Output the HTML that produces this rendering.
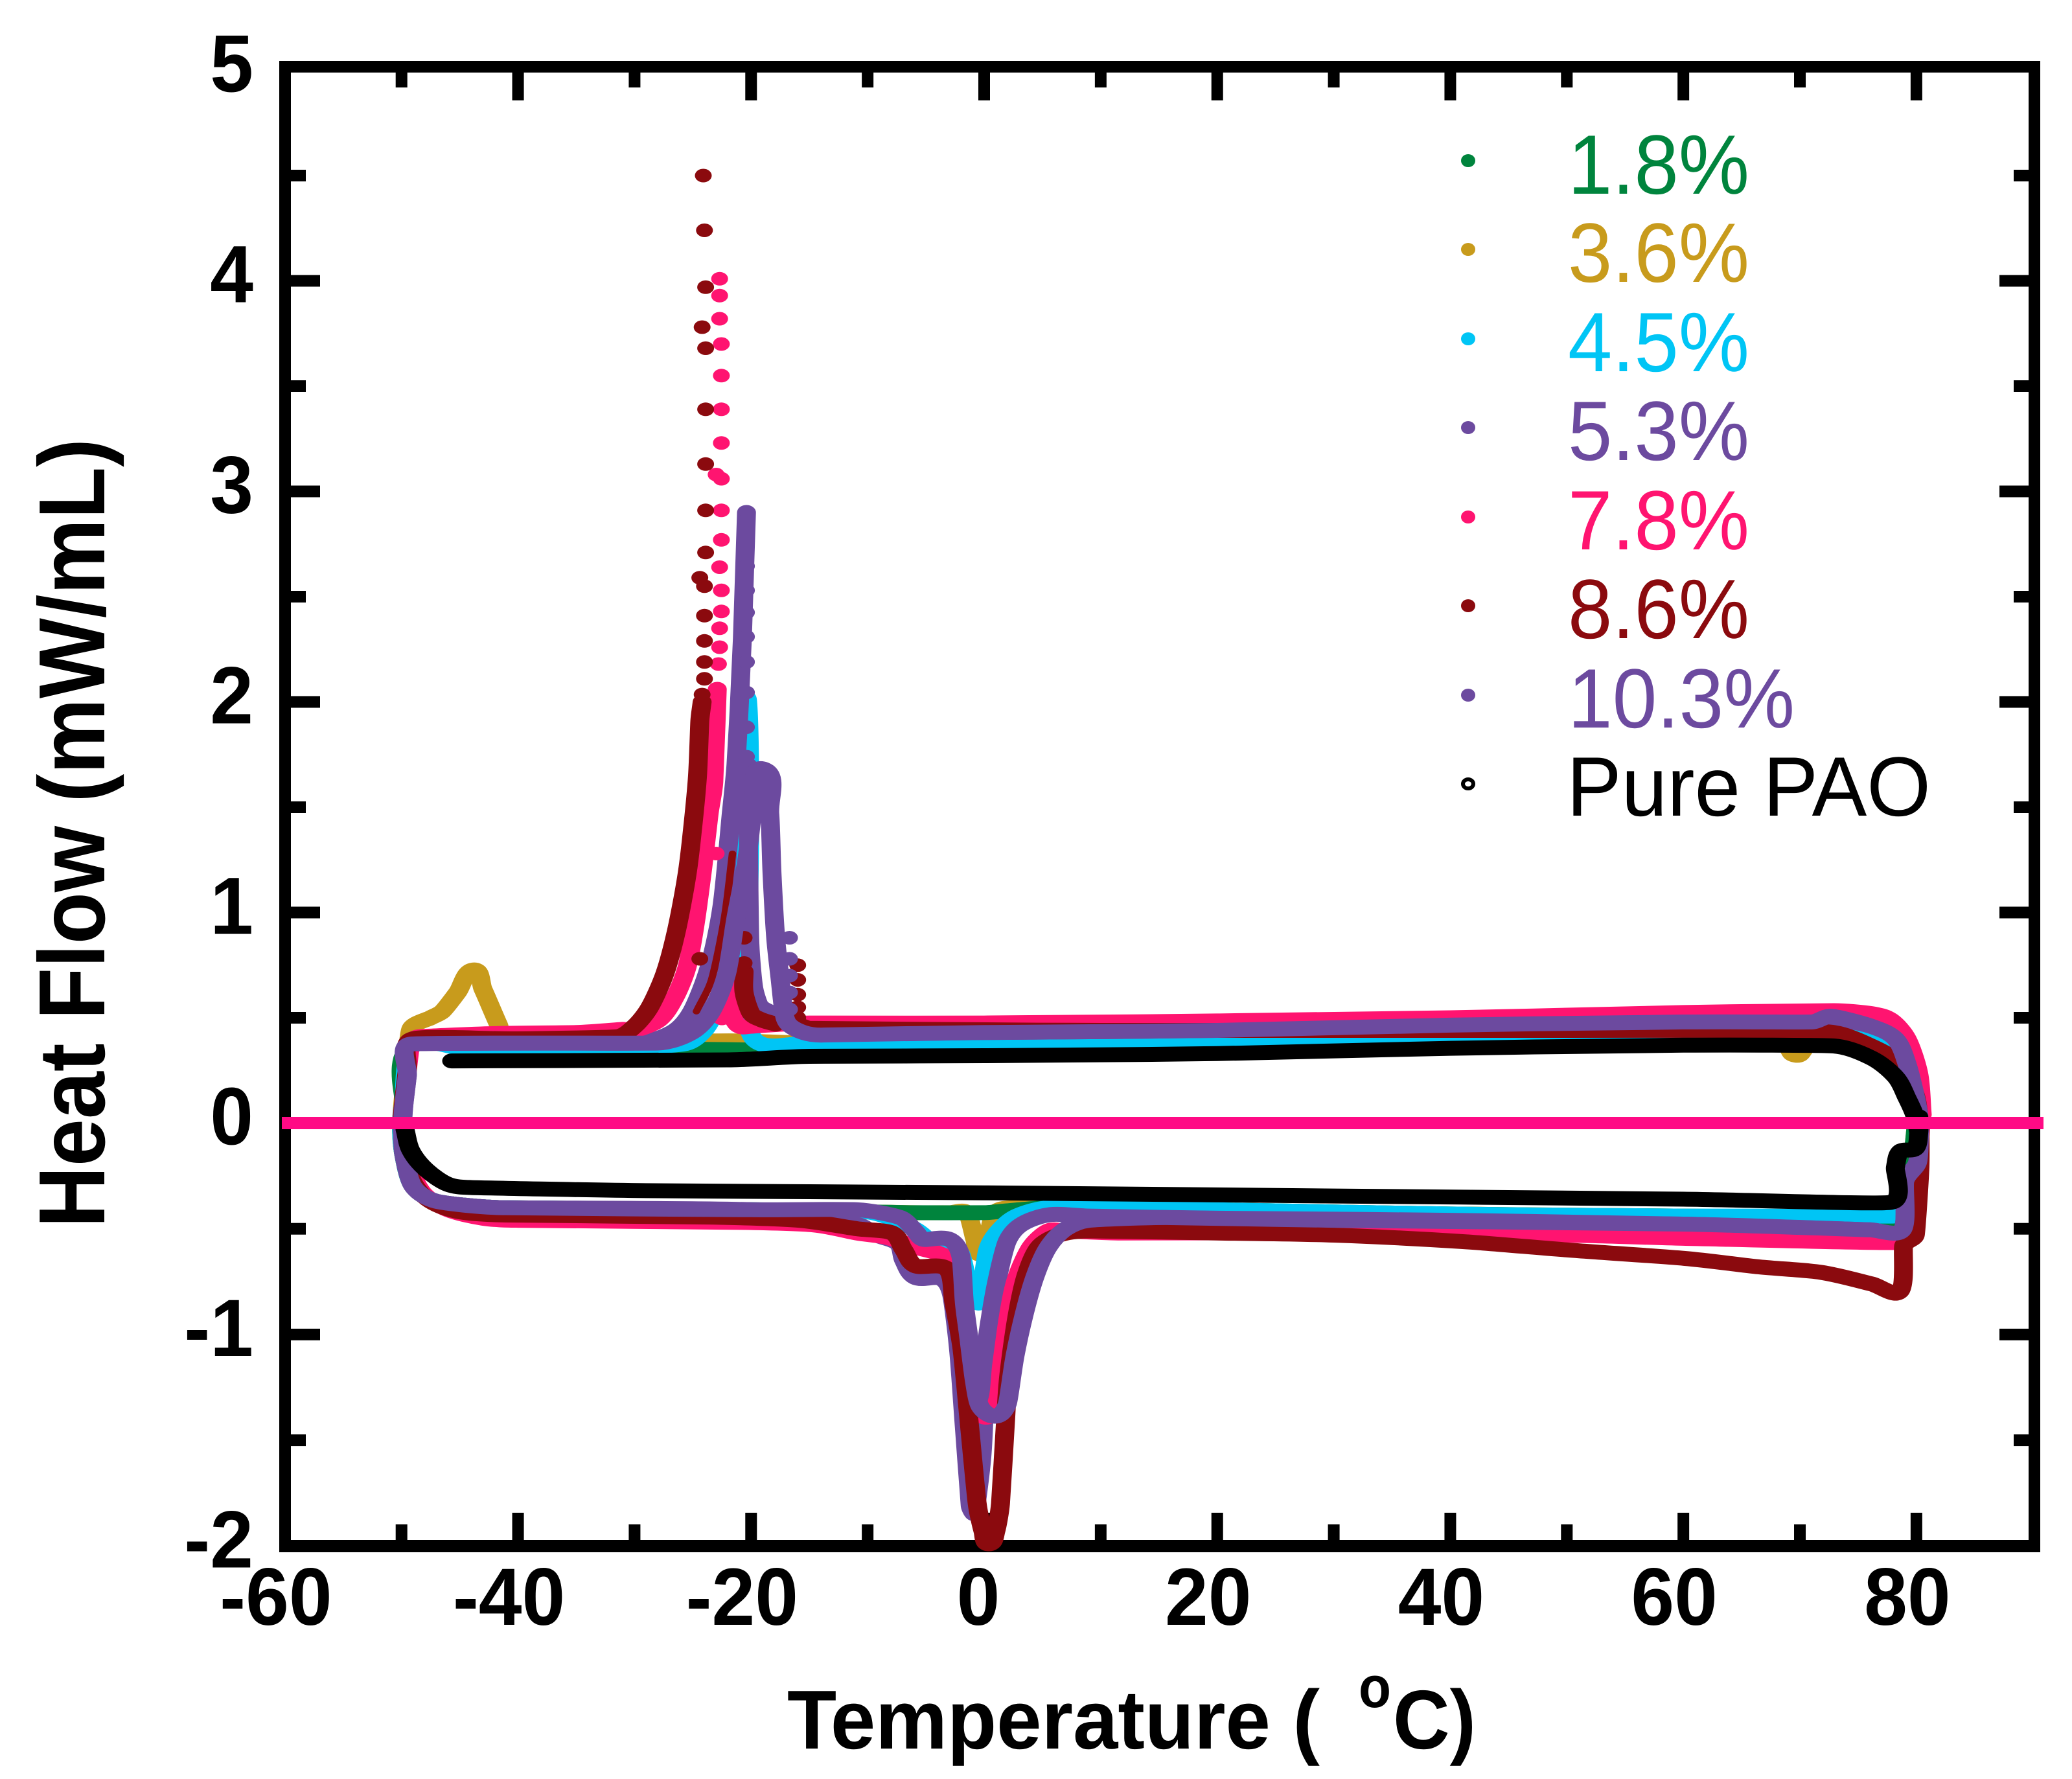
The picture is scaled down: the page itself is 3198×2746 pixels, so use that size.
<!DOCTYPE html>
<html lang="en">
<head>
<meta charset="utf-8">
<title>Heat Flow vs Temperature</title>
<style>
html,body{margin:0;padding:0;background:#fff;}
svg{display:block;}
text{font-family:"Liberation Sans",sans-serif;}
.bold{font-weight:700;fill:#000;}
.leg{font-size:130px;}
</style>
</head>
<body>
<svg id="chart" xmlns="http://www.w3.org/2000/svg" width="3198" height="2746" viewBox="0 0 3198 2746">
  <rect x="0" y="0" width="3198" height="2746" fill="#fff"/>
  <g id="axis-layer">
    <rect x="431" y="94" width="18" height="2302" fill="#000"/>
    <rect x="3131" y="94" width="18" height="2302" fill="#000"/>
    <rect x="431" y="94" width="2718" height="18" fill="#000"/>
    <rect x="431" y="2377" width="2718" height="19" fill="#000"/>
  </g>
  <g id="top-layer"></g>
  <rect x="435" y="1724" width="2719" height="19" fill="#ff0a85"/>
  <text class="bold" transform="translate(161,1895) rotate(-90)" font-size="145" textLength="1218" lengthAdjust="spacingAndGlyphs">Heat Flow (mW/mL)</text>
  <text class="bold" x="1215" y="2699" font-size="129" textLength="822" lengthAdjust="spacingAndGlyphs">Temperature (</text>
  <text class="bold" x="2097" y="2635" font-size="90" textLength="50" lengthAdjust="spacingAndGlyphs">o</text>
  <text class="bold" x="2150" y="2699" font-size="129" textLength="128" lengthAdjust="spacingAndGlyphs">C)</text>
  <g>
    <ellipse cx="2266" cy="248" rx="11" ry="10" fill="#00843d"/>
    <text class="leg" x="2420" y="299" fill="#00843d" textLength="280" lengthAdjust="spacingAndGlyphs">1.8%</text>
    <ellipse cx="2266" cy="385" rx="11" ry="10" fill="#c89b1c"/>
    <text class="leg" x="2420" y="435" fill="#c89b1c" textLength="280" lengthAdjust="spacingAndGlyphs">3.6%</text>
    <ellipse cx="2266" cy="523" rx="11" ry="10" fill="#00c5f5"/>
    <text class="leg" x="2420" y="573" fill="#00c5f5" textLength="280" lengthAdjust="spacingAndGlyphs">4.5%</text>
    <ellipse cx="2266" cy="660" rx="11" ry="10" fill="#6c4a9f"/>
    <text class="leg" x="2420" y="710" fill="#6c4a9f" textLength="280" lengthAdjust="spacingAndGlyphs">5.3%</text>
    <ellipse cx="2266" cy="798" rx="11" ry="10" fill="#ff1470"/>
    <text class="leg" x="2420" y="848" fill="#ff1470" textLength="280" lengthAdjust="spacingAndGlyphs">7.8%</text>
    <ellipse cx="2266" cy="935" rx="11" ry="10" fill="#8b0a0e"/>
    <text class="leg" x="2420" y="985" fill="#8b0a0e" textLength="280" lengthAdjust="spacingAndGlyphs">8.6%</text>
    <ellipse cx="2266" cy="1073" rx="11" ry="10" fill="#6c4a9f"/>
    <text class="leg" x="2420" y="1123" fill="#6c4a9f" textLength="350" lengthAdjust="spacingAndGlyphs">10.3%</text>
    <ellipse cx="2266" cy="1210" rx="8" ry="7" fill="#fff" stroke="#000" stroke-width="6"/>
    <text class="leg" x="2418" y="1259" fill="#000" textLength="562" lengthAdjust="spacingAndGlyphs">Pure PAO</text>
  </g>
</svg>
<script>
const xMajorTicks = [-60,-40,-20,0,20,40,60,80];
const xMinorTicks = [-50,-30,-10,10,30,50,70,90];
const xTickLabels = ["-60","-40","-20","0","20","40","60","80"];
const yMajorTicks = [-2,-1,0,1,2,3,4,5];
const yMinorTicks = [-1.5,-0.5,0.5,1.5,2.5,3.5,4.5];
const yTickLabels = ["-2","-1","0","1","2","3","4","5"];

const temp18 = [80,79.2,78.2,76,72.9,60,40,20,0,-15,-24,-28,-40,-49,-49.8,-50,-49.8,-49,-47,-41.5,-20,-10,-6,0,1,3,5.7,20,40,60,75,78.8,79.6,80];
const flow18 = [0,.2,.33,.38,.405,.40,.385,.37,.355,.345,.35,.35,.36,.37,.1,0,-.15,-.3,-.37,-.40,-.41,-.42,-.424,-.424,-.42,-.41,-.40,-.41,-.43,-.44,-.45,-.45,-.2,0];

const temp36 = [80,79.2,78.2,76,72,70.8,70,69.3,68.5,66,40,20,0,-15,-21,-24,-30,-41,-41.7,-43,-43.85,-45.2,-46.5,-47.5,-49.2,-49.7,-50,-49.8,-49,-47,-41.5,-20,-10,-6,-3,-1.5,-.8,-.3,.3,1,3,6,20,40,60,75,78.8,79.6,80];
const flow36 = [0,.2,.33,.38,.405,.38,.325,.33,.39,.405,.39,.38,.37,.38,.39,.39,.395,.40,.47,.635,.727,.62,.53,.5,.447,.2,0,-.15,-.3,-.37,-.40,-.41,-.42,-.424,-.424,-.424,-.55,-.62,-.55,-.42,-.40,-.40,-.41,-.43,-.44,-.45,-.45,-.2,0];

const temp45 = [80,79.2,78.2,76,72,60,40,20,0,-15,-19.6,-20,-20.2,-20.1,-20.3,-20.5,-20.7,-20.9,-21.1,-21.9,-23.2,-24.1,-25.6,-30,-45,-49,-49.8,-50,-49.8,-49,-47,-41.5,-20,-10,-6,-4.2,-3,-2,-1.4,-.6,-.2,.3,1.2,2.8,5.7,20,40,60,78];
const flow45 = [0,.2,.33,.39,.433,.43,.41,.39,.38,.38,.39,.6,1,1.5,2,1.75,1.5,1.18,.9,.74,.52,.435,.378,.36,.36,.37,.1,0,-.15,-.3,-.37,-.40,-.41,-.42,-.5,-.58,-.58,-.62,-.75,-.85,-.777,-.6,-.513,-.44,-.40,-.41,-.43,-.44,-.44];

const temp53 = [80.3,80,79.2,78.2,76.1,72.7,60,40,20,0,-14,-15.5,-17.2,-18.5,-19.3,-19.8,-20.1,-20.2,-20.3,null,-20.4,-20.75,-21,-21.3,-21.7,-22.5,-23.6,-25.1,-26.8,-30,-49.2,-49.5,-49.8,-49.9,-49.9,-49.7,-49,-47,-41.5,-20,-10.9,-9.2,-7.4,-6.9,-5.9,-3.7,-2.8,-2.2,-1.7,-1.2,-.8,-.2,.05,.17,.53,1.2,2,3.3,5.7,9,20,40,60,76,78.8,79,80.1,80.3];
const flow53 = [0,.105,.28,.4,.46,.49,.475,.46,.44,.43,.42,.44,.5,.53,.56,.65,.85,1.2,1.7,null,2.9,2.3,2,1.7,1.47,1.03,.74,.53,.43,.38,.375,.225,.085,0,-.05,-.15,-.3,-.37,-.40,-.41,-.48,-.53,-.57,-.65,-.73,-.735,-.81,-1.07,-1.44,-1.81,-1.845,-1.58,-1.29,-1.07,-.92,-.72,-.556,-.476,-.433,-.44,-.45,-.46,-.478,-.505,-.505,-.275,-.185,0];
const dotTemp53 = [-20.4,-20.4,-20.4,-20.4,-20.4,-20.4,-20.4,-20.4,-20.4,-20.4];
const dotFlow53 = [2.865,2.76,2.645,2.53,2.425,2.31,2.19,2.045,1.88,1.74];

const temp78 = [80.5,80.2,79.2,77.8,76.1,72.9,60,40,20,0,-15,-20,-21,-21.5,-21.75,-22.1,-22.5,null,-22.9,-23.2,-23.6,-24.15,-24.8,-25.5,-26.6,-27.9,-30,-31,-35,-42,-48.5,-49.2,-49.6,-50,-49.8,-49.6,-49,-48,-46,-43,-40,-20.8,-14.6,-10.9,-8.4,-5.9,-3,-2,-1.4,-.85,.3,1.2,1.5,2.15,2.8,4,5.5,7,11.5,30,50,60,78.5,79.2,80,80.4];
const flow78 = [.04,.234,.4,.49,.52,.534,.525,.50,.485,.475,.475,.46,.46,.5,.68,.58,.5,null,2.06,1.62,1.47,1.21,.945,.74,.59,.49,.44,.445,.43,.425,.41,.38,.2,0,-.05,-.12,-.25,-.34,-.41,-.45,-.46,-.47,-.482,-.52,-.54,-.586,-.645,-.8,-1.05,-1.33,-1.39,-1.3,-1.145,-.89,-.73,-.586,-.51,-.51,-.52,-.52,-.53,-.545,-.565,-.45,-.25,0];
const dotTemp78 = [-22.7,-22.7,-22.7,-22.55,-22.55,-22.55,-22.55,-23,-22.55,-22.55,-22.55,-22.7,-22.55,-22.55,-22.7,-22.7,-22.8,-23];
const dotFlow78 = [4.01,3.93,3.82,3.70,3.55,3.39,3.23,3.08,3.06,2.91,2.77,2.64,2.53,2.43,2.35,2.26,2.18,1.28];

const temp86 = [80.3,79.8,78.2,76.1,72.9,67,50,30,10,-5,-15,-15.6,null,-17.9,-19.1,-20,-20.6,-20.6,null,-24.2,-24.4,-24.6,-25,-25.5,-26.4,-27.4,-28.7,-30,-31.5,-40,-49,-49.5,-49.9,-49.9,-49.7,-49,-47.5,-45,-41,-23.3,-15.9,-10.9,-7.9,-6.9,-5.9,-3.2,-2.6,-1.9,-1.25,-.6,-.1,.4,1,1.4,1.8,2.1,2.8,3.6,4.7,6.5,9,20,30,40.9,50,60.1,66.5,71.8,76.1,78.6,78.9,79.9,80.3,80.3];
const flow86 = [0,.15,.295,.366,.43,.44,.44,.44,.44,.445,.45,.46,null,.47,.49,.52,.62,.72,null,2,1.91,1.65,1.41,1.18,.915,.71,.55,.46,.41,.40,.40,.25,.05,-.05,-.15,-.28,-.37,-.42,-.435,-.445,-.46,-.5,-.52,-.6,-.675,-.69,-.85,-1.07,-1.436,-1.8,-1.93,-1.99,-1.93,-1.8,-1.436,-1.2,-.92,-.72,-.586,-.528,-.51,-.52,-.53,-.56,-.6,-.64,-.68,-.706,-.76,-.795,-.58,-.53,-.21,0];
const dotTemp86 = [-24.1,-24,-23.9,-24.2,-23.9,-23.9,-23.9,-23.9,-23.9,-24.4,-24,-24,-24,-24,-24,-24.2,-20.6,-20.6,-24.4,-16,-16,-16,-16,-16];
const dotFlow86 = [4.50,4.24,3.97,3.78,3.68,3.39,3.13,2.91,2.71,2.59,2.55,2.41,2.29,2.19,2.11,2.035,.88,.76,.78,.75,.68,.61,.55,.5];
const temp86Return = [-21.6,-22.3,-23.4,-24.7];
const flow86Return = [1.28,.97,.68,.53];

const temp103 = [80.3,80,79.2,78.2,76.1,72.7,71,60,40,20,0,-14,-15.5,-16.8,-17.2,-17.5,-17.9,-18.2,-18.4,-18.9,-19.8,-20.4,-21.3,-22.1,-23.4,-25.1,-28,-49.2,-49.5,-49.8,-49.9,-49.9,-49.8,-49,-47,-41.5,-20,-10.9,-7.2,-5.9,-5.2,-3,-2,-1.7,-1.35,-.85,-.35,1,2,2.65,3.5,4.4,5.5,7,9,15.6,30,60,76,78.8,79,80.1,80.3];
const flow103 = [0,.105,.28,.4,.46,.507,.48,.48,.465,.44,.43,.418,.43,.47,.53,.68,.885,1.18,1.47,1.68,1.5,1.24,.975,.71,.53,.43,.38,.375,.225,.085,0,-.05,-.15,-.3,-.37,-.40,-.41,-.41,-.447,-.513,-.55,-.55,-.63,-.85,-1,-1.215,-1.34,-1.386,-1.325,-1.1,-.89,-.72,-.586,-.5,-.46,-.447,-.46,-.478,-.505,-.505,-.275,-.185,0];
const dotTemp103 = [-16.7,-16.7,-16.7,-16.7,-16.7];
const dotFlow103 = [.88,.78,.7,.62,.54];

const tempPure = [80.2,79.9,79.2,78.2,76.1,72.9,60,40,20,0,-15,-22,-45.7,null,-49.7,-49.2,-47.9,-46,-44,-29,0,30,60,77.8,78.2,78.6,79.9,80.2,80.2];
const flowPure = [-.045,.03,.118,.22,.31,.366,.37,.355,.33,.32,.317,.30,.295,null,-.03,-.13,-.22,-.29,-.305,-.32,-.33,-.345,-.36,-.375,-.21,-.135,-.12,-.045,.03];

function xAxis(t){ return 1519 + t * 17.986; }
function yAxis(v){ return v >= 0 ? 1733.5 - v * 325 : 1733.5 - v * 326.4; }

const svgNS = 'http://www.w3.org/2000/svg';
const axisLayer = document.getElementById('axis-layer');
const curveLayer = document.getElementById('top-layer');

function rect(parent,x,y,w,h,name){
  const r = document.createElementNS(svgNS,'rect');
  r.setAttribute('x',x); r.setAttribute('y',y);
  r.setAttribute('width',w); r.setAttribute('height',h);
  r.setAttribute('fill','#000');
  
  
  parent.appendChild(r);
}
function label(txt,x,y,anchor,name){
  const t = document.createElementNS(svgNS,'text');
  t.setAttribute('transform','translate('+x+','+y+') scale(0.96,1)');
  t.setAttribute('text-anchor',anchor);
  t.setAttribute('font-size','125');
  t.setAttribute('class','bold');
  
  
  t.textContent = txt;
  axisLayer.appendChild(t);
}
xMajorTicks.forEach(function(v,i){
  const x = xAxis(v);
  if(v > -60){
    rect(axisLayer,x-9,2335,18,45,'x-major-tick-bottom');
    rect(axisLayer,x-9,110,18,45,'x-major-tick-top');
  }
  label(xTickLabels[i], x-(v===0?9:14), 2508, 'middle', 'x-tick-label');
});
xMinorTicks.forEach(function(v){
  const x = xAxis(v);
  if(x < 3130){
    rect(axisLayer,x-9,2353,18,26,'x-minor-tick-bottom');
    rect(axisLayer,x-9,110,18,25,'x-minor-tick-top');
  }
});
yMajorTicks.forEach(function(v,i){
  const y = yAxis(v);
  if(v > -2 && v < 5){
    rect(axisLayer,447,y-9,47,18,'y-major-tick-left');
    rect(axisLayer,3086,y-9,47,18,'y-major-tick-right');
  }
  label(yTickLabels[i], 391, y+33, 'end', 'y-tick-label');
});
yMinorTicks.forEach(function(v){
  const y = yAxis(v);
  rect(axisLayer,447,y-9,25,18,'y-minor-tick-left');
  rect(axisLayer,3108,y-9,25,18,'y-minor-tick-right');
});

const penStretch = 1.27;
function smoothSegment(pts){
  let d = 'M' + pts[0][0].toFixed(1) + ' ' + pts[0][1].toFixed(1);
  const dist = function(a,b){ return Math.hypot(b[0]-a[0], b[1]-a[1]); };
  const tangent = function(i){
    const a = pts[Math.max(i-1,0)], b = pts[Math.min(i+1,pts.length-1)];
    const dx = b[0]-a[0], dy = b[1]-a[1], n = Math.hypot(dx,dy) || 1;
    return [dx/n, dy/n];
  };
  const handle = function(i){
    const prev = i > 0 ? dist(pts[i-1],pts[i]) : Infinity;
    const next = i < pts.length-1 ? dist(pts[i],pts[i+1]) : Infinity;
    return Math.min(prev,next) / 3;
  };
  for(let i=0;i<pts.length-1;i++){
    const p = pts[i], q = pts[i+1];
    const h0 = handle(i), h1 = handle(i+1);
    const t0 = tangent(i), t1 = tangent(i+1);
    d += 'C' + (p[0]+t0[0]*h0).toFixed(1) + ' ' + (p[1]+t0[1]*h0).toFixed(1) + ' '
       + (q[0]-t1[0]*h1).toFixed(1) + ' ' + (q[1]-t1[1]*h1).toFixed(1) + ' '
       + q[0].toFixed(1) + ' ' + q[1].toFixed(1);
  }
  return d;
}
function drawCurve(temps,flows,color,width,name){
  let d = '', seg = [];
  for(let i=0;i<=temps.length;i++){
    if(i===temps.length || temps[i]===null || flows[i]===null){
      if(seg.length > 1){ d += smoothSegment(seg); }
      seg = [];
      continue;
    }
    seg.push([xAxis(temps[i]) / penStretch, yAxis(flows[i])]);
  }
  const p = document.createElementNS(svgNS,'path');
  p.setAttribute('d',d);
  p.setAttribute('transform','scale(' + penStretch + ',1)');
  p.setAttribute('fill','none');
  p.setAttribute('stroke',color);
  p.setAttribute('stroke-width',width);
  p.setAttribute('stroke-linejoin','round');
  p.setAttribute('stroke-linecap','round');
  
  
  curveLayer.appendChild(p);
}
function drawDots(temps,flows,color,name){
  temps.forEach(function(t,i){
    const c = document.createElementNS(svgNS,'ellipse');
    c.setAttribute('cx',xAxis(t).toFixed(1));
    c.setAttribute('cy',yAxis(flows[i]).toFixed(1));
    c.setAttribute('rx','13');
    c.setAttribute('ry','10.5');
    c.setAttribute('fill',color);
    
    
    curveLayer.appendChild(c);
  });
}
drawCurve(temp36,flow36,'#c89b1c',23,'curve-3-6');
drawCurve(temp18,flow18,'#00843d',23,'curve-1-8');
drawCurve(temp45,flow45,'#00c5f5',23,'curve-4-5');
drawCurve(temp53,flow53,'#6c4a9f',23,'curve-5-3');
drawDots(dotTemp53,dotFlow53,'#6c4a9f','point-5-3');
drawCurve(temp78,flow78,'#ff1470',23,'curve-7-8');
drawDots(dotTemp78,dotFlow78,'#ff1470','point-7-8');
drawCurve(temp86,flow86,'#8b0a0e',23,'curve-8-6');
drawCurve(temp86Return,flow86Return,'#8b0a0e',9,'curve-8-6-return');
drawDots(dotTemp86,dotFlow86,'#8b0a0e','point-8-6');
drawCurve(temp103,flow103,'#6c4a9f',23,'curve-10-3');
drawDots(dotTemp103,dotFlow103,'#6c4a9f','point-10-3');
drawCurve(tempPure,flowPure,'#000000',23,'curve-pure-pao');
</script>
</body>
</html>
